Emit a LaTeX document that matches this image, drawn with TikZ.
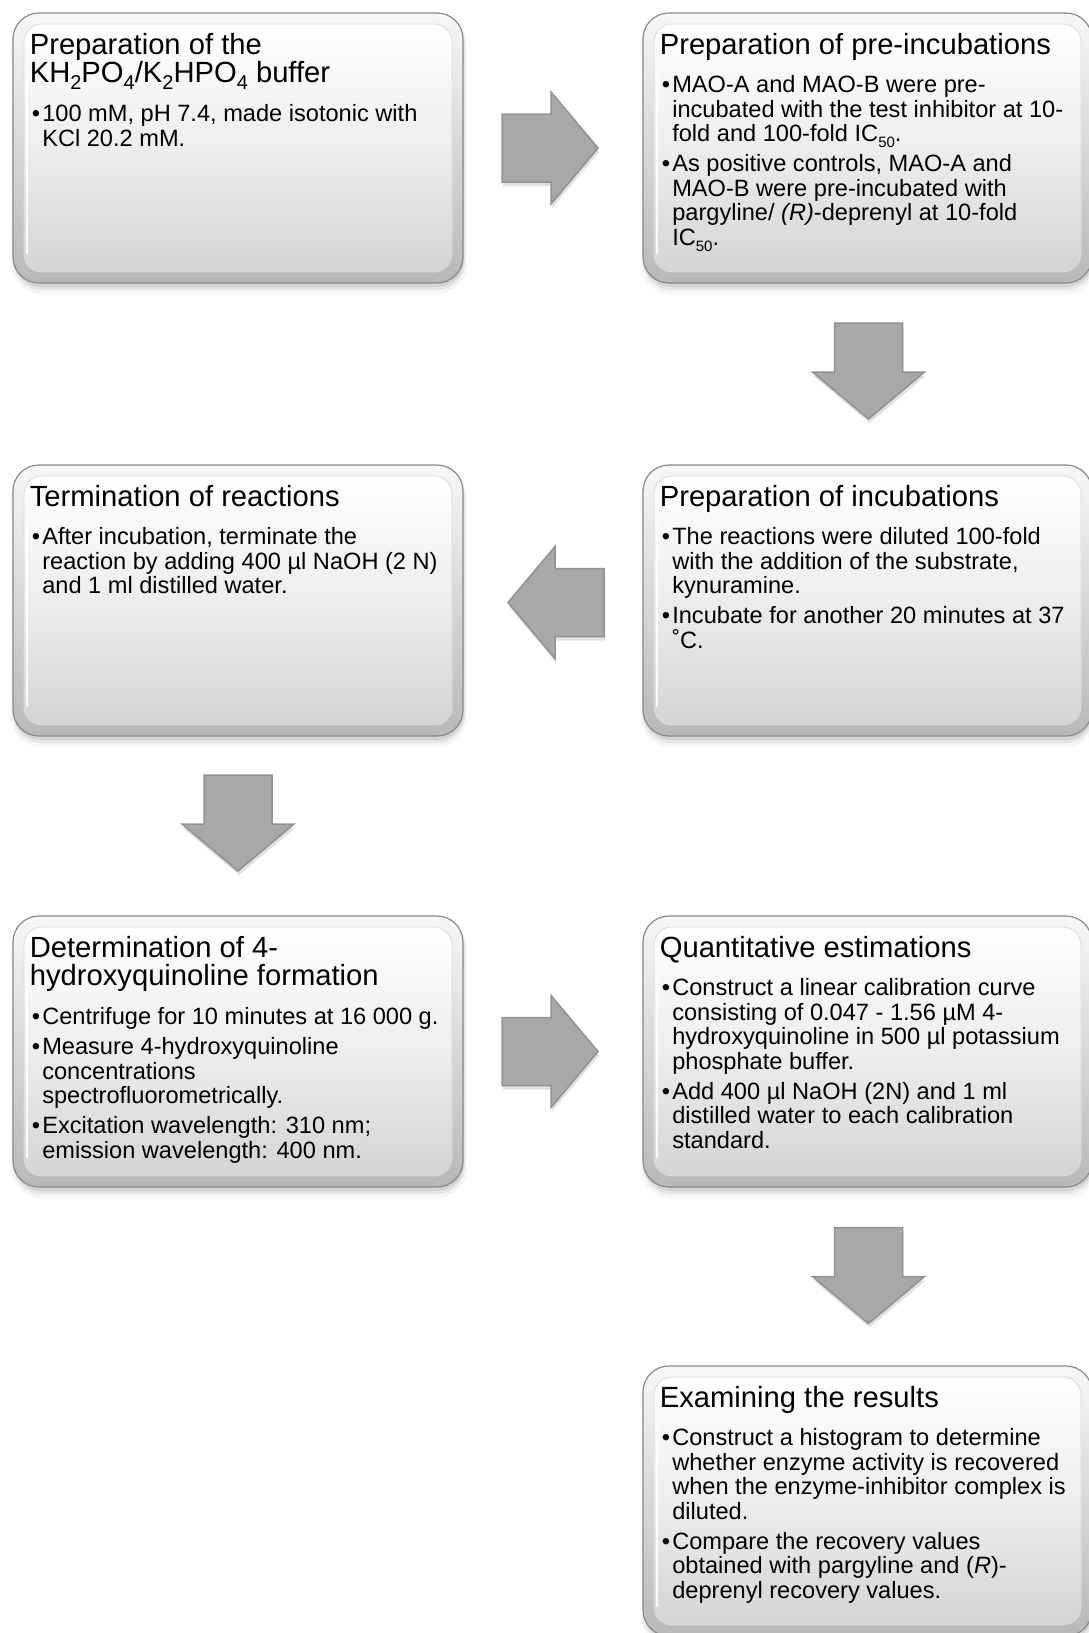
\documentclass[tikz,border=0pt]{standalone}
\usepackage{fontspec}
\setmainfont{Liberation Sans}
\usetikzlibrary{calc,fit}
\definecolor{rimC}{HTML}{8A8A8A}
\definecolor{outerTop}{HTML}{F7F7F7}
\definecolor{outerBot}{HTML}{B8B8B8}
\definecolor{faceBot}{HTML}{D4D4D4}
\definecolor{faceMid}{HTML}{EDEDED}
\definecolor{arrFill}{HTML}{A8A8A8}
\definecolor{arrLine}{HTML}{929292}

\newcommand\tsub[1]{\raisebox{-6.5pt}{\fontsize{20}{20}\selectfont #1}}
\newcommand\bsub[1]{\raisebox{-6pt}{\fontsize{15}{15}\selectfont #1}}
\newcommand\bulx{\makebox[10.5pt][l]{•}}
\newcommand\indx{\hspace*{10.5pt}}
\newcommand\fstrut{\rule{0pt}{30pt}}

\tikzset{
  outerp/.style={draw=rimC, line width=1.2pt, top color=outerTop, bottom color=outerBot, rounded corners=26pt},
  facep/.style={top color=white, bottom color=faceBot, middle color=faceMid, rounded corners=18pt, draw=black!14, line width=0.8pt},
  hilite/.style={draw=white, line width=2.5pt, line cap=round, opacity=0.9},
  ttl/.style={anchor=north west, inner sep=0pt, outer sep=0pt, align=left, font=\fontsize{29.2}{28}\selectfont},
  bdy/.style={anchor=north west, inner sep=0pt, outer sep=0pt, align=left, font=\fontsize{23.6}{24.5}\selectfont},
  arrbody/.style={fill=arrFill, draw=arrLine, line width=1.5pt, line join=miter},
  arrshadow/.style={fill=black, opacity=0.12}
}

\newcommand\panelbox[5]{%
  \fill[black,opacity=.04,rounded corners=30pt] (#2-2,#3+2) rectangle (#4+4,#5+11);
  \fill[black,opacity=.06,rounded corners=28pt] (#2,#3+3) rectangle (#4+2,#5+7);
  \fill[black,opacity=.08,rounded corners=27pt] (#2+1,#3+3) rectangle (#4+1,#5+4);
  \path[outerp] (#2,#3) rectangle (#4,#5);
  \path[facep] (#2+11,#3+11) rectangle (#4-11,#5-11);
  \draw[hilite] (#2+14,#3+60) -- (#2+14,#5-30);
  \node[fit={(#2,#3) (#4,#5)}, inner sep=0pt] (#1) {};
}

\newcommand\blockarr[2]{%
  \begin{scope}[shift={#1}, shift={(1,4)}, rotate=#2]
    \fill[arrshadow] (-48,-34) -- (1,-34) -- (1,-56) -- (48,0) -- (1,56) -- (1,34) -- (-48,34) -- cycle;
  \end{scope}
  \begin{scope}[shift={#1}, rotate=#2]
    \path[arrbody] (-48,-34) -- (1,-34) -- (1,-56) -- (48,0) -- (1,56) -- (1,34) -- (-48,34) -- cycle;
  \end{scope}
}

\begin{document}
\begin{tikzpicture}[x=1pt, y=-1pt]
\fill[white] (0,0) rectangle (1088,1633);
\useasboundingbox (0,0) rectangle (1088,1633);

% panels
\panelbox{b1}{13}{13}{463}{283}
\panelbox{b2}{643}{13}{1092}{283}
\panelbox{b3}{643}{465}{1092}{736}
\panelbox{b4}{13}{465}{463}{736}
\panelbox{b5}{13}{916}{463}{1187}
\panelbox{b6}{643}{916}{1092}{1187}
\panelbox{b7}{643}{1366}{1092}{1636}

% block arrows between panels
\coordinate (m12) at ($(b1.east)!0.5!(b2.west)+(-3,0)$);
\coordinate (m23) at ($(b2.south)!0.5!(b3.north)+(1,-3)$);
\coordinate (m34) at ($(b3.west)!0.5!(b4.east)+(3,2)$);
\coordinate (m45) at ($(b4.south)!0.5!(b5.north)+(0,-3)$);
\coordinate (m56) at ($(b5.east)!0.5!(b6.west)+(-3,0)$);
\coordinate (m67) at ($(b6.south)!0.5!(b7.north)+(1,-1)$);
\blockarr{(m12)}{0}
\blockarr{(m23)}{-90}
\blockarr{(m34)}{180}
\blockarr{(m45)}{-90}
\blockarr{(m56)}{0}
\blockarr{(m67)}{-90}

% box 1
\node[ttl] (t1) at ($(b1.north west)+(17,12)$) {\fstrut Preparation of the\\KH\tsub{2}PO\tsub{4}/K\tsub{2}HPO\tsub{4} buffer};
\node[bdy] (x1) at ($(b1.north west)+(19,79)$) {\fstrut\bulx 100 mM, pH 7.4, made isotonic with\\\indx KCl 20.2 mM.};

% box 2
\node[ttl] (t2) at ($(b2.north west)+(17,12)$) {\fstrut Preparation of pre-incubations};
\node[bdy] (x2) at ($(b2.north west)+(19,50)$) {\fstrut\bulx MAO-A and MAO-B were pre-\\\indx incubated with the test inhibitor at 10-\\\indx fold and 100-fold IC\bsub{50}.\\[5.5pt]\bulx As positive controls, MAO-A and\\\indx MAO-B were pre-incubated with\\\indx pargyline/ \textit{(R)}-deprenyl at 10-fold\\\indx IC\bsub{50}.};

% box 3
\node[ttl] (t3) at ($(b3.north west)+(17,12)$) {\fstrut Preparation of incubations};
\node[bdy] (x3) at ($(b3.north west)+(19,50)$) {\fstrut\bulx The reactions were diluted 100-fold\\\indx with the addition of the substrate,\\\indx kynuramine.\\[5.5pt]\bulx Incubate for another 20 minutes at 37\\\indx ˚C.};

% box 4
\node[ttl] (t4) at ($(b4.north west)+(17,12)$) {\fstrut Termination of reactions};
\node[bdy] (x4) at ($(b4.north west)+(19,50)$) {\fstrut\bulx After incubation, terminate the\\\indx reaction by adding 400 µl NaOH (2 N)\\\indx and 1 ml distilled water.};

% box 5
\node[ttl] (t5) at ($(b5.north west)+(17,12)$) {\fstrut Determination of 4-\\hydroxyquinoline formation};
\node[bdy] (x5) at ($(b5.north west)+(19,79)$) {\fstrut\bulx Centrifuge for 10 minutes at 16 000 g.\\[5.5pt]\bulx Measure 4-hydroxyquinoline\\\indx concentrations\\\indx spectrofluorometrically.\\[5.5pt]\bulx Excitation wavelength: 310 nm;\\\indx emission wavelength: 400 nm.};

% box 6
\node[ttl] (t6) at ($(b6.north west)+(17,12)$) {\fstrut Quantitative estimations};
\node[bdy] (x6) at ($(b6.north west)+(19,50)$) {\fstrut\bulx Construct a linear calibration curve\\\indx consisting of 0.047 - 1.56 µM 4-\\\indx hydroxyquinoline in 500 µl potassium\\\indx phosphate buffer.\\[5.5pt]\bulx Add 400 µl NaOH (2N) and 1 ml\\\indx distilled water to each calibration\\\indx standard.};

% box 7
\node[ttl] (t7) at ($(b7.north west)+(17,12)$) {\fstrut Examining the results};
\node[bdy] (x7) at ($(b7.north west)+(19,50)$) {\fstrut\bulx Construct a histogram to determine\\\indx whether enzyme activity is recovered\\\indx when the enzyme-inhibitor complex is\\\indx diluted.\\[5.5pt]\bulx Compare the recovery values\\\indx obtained with pargyline and (\textit{R})-\\\indx deprenyl recovery values.};
\end{tikzpicture}
\end{document}
